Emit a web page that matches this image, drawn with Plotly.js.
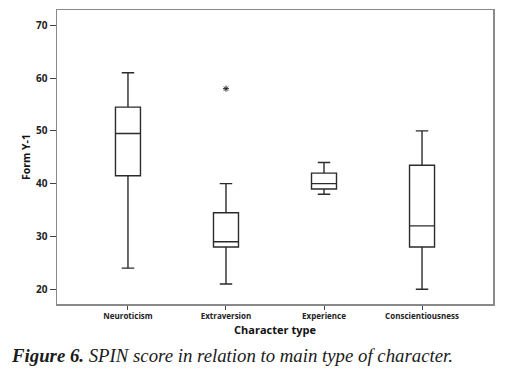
<!DOCTYPE html>
<html><head><meta charset="utf-8">
<script src="https://cdn.plot.ly/plotly-3.0.1.min.js"></script>
<style>html,body{margin:0;padding:0;background:#fff}#chart{width:506px;height:372px}</style>
</head><body><div id="chart"></div>
<script>
const categories = ["Neuroticism", "Extraversion", "Experience", "Conscientiousness"];
const lowerWhisker = [24, 21, 38, 20];
const q1 = [41.5, 28, 39, 28];
const median = [49.5, 29, 40, 32];
const q3 = [54.5, 34.5, 42, 43.5];
const upperWhisker = [61, 40, 44, 50];
const outlierCategory = ["Extraversion"];
const outlierValue = [58];

const data = [
  {
    type: "box",
    x: categories,
    q1: q1, median: median, q3: q3,
    lowerfence: lowerWhisker, upperfence: upperWhisker,
    fillcolor: "rgba(255,255,255,0)",
    line: {color: "#2b2b2b", width: 1.4},
    width: 0.255,
    whiskerwidth: 0.5,
    boxpoints: false,
    hoverinfo: "skip",
    showlegend: false
  },
  {
    type: "scatter", mode: "markers",
    x: outlierCategory, y: outlierValue,
    marker: {symbol: "asterisk-open", size: 5, color: "#222", line: {width: 1, color: "#222"}},
    showlegend: false, hoverinfo: "skip"
  }
];

const layout = {
  width: 506, height: 372,
  margin: {l: 57, r: 13, t: 10, b: 68},
  paper_bgcolor: "#fff", plot_bgcolor: "#fff",
  showlegend: false,
  xaxis: {
    type: "category",
    categoryorder: "array", categoryarray: categories,
    range: [-0.724, 3.724],
    showgrid: false, zeroline: false,
    showline: true, mirror: true, linecolor: "#8a8a8a", linewidth: 1.5,
    ticks: "outside", ticklen: 4, tickcolor: "#444", tickwidth: 1,
    tickfont: {family: "Open Sans, DejaVu Sans, sans-serif", size: 8, color: "#222", weight: "bold"},
    title: {text: "Character type", standoff: 6,
      font: {family: "Open Sans, DejaVu Sans, sans-serif", size: 11, color: "#111", weight: "bold"}}
  },
  yaxis: {
    range: [17.2, 72.9],
    tickvals: [20, 30, 40, 50, 60, 70],
    showgrid: false, zeroline: false,
    showline: true, mirror: true, linecolor: "#8a8a8a", linewidth: 1.5,
    ticks: "outside", ticklen: 6, tickcolor: "#444", tickwidth: 1,
    tickfont: {family: "Open Sans, DejaVu Sans, sans-serif", size: 10, color: "#222", weight: "bold"},
    title: {text: "Form Y-1", standoff: 3,
      font: {family: "Open Sans, DejaVu Sans, sans-serif", size: 10.5, color: "#111", weight: "bold"}}
  },
  annotations: [{
    xref: "paper", yref: "paper",
    x: -0.11, y: -0.174, xanchor: "left", yanchor: "middle",
    showarrow: false,
    text: "<b><i>Figure 6.</i></b><i> SPIN score in relation to main type of character.</i>",
    font: {family: "Liberation Serif, DejaVu Serif, serif", size: 18.8, color: "#1a1a1a"}
  }]
};

Plotly.newPlot("chart", data, layout, {displayModeBar: false, staticPlot: true});
</script></body></html>
